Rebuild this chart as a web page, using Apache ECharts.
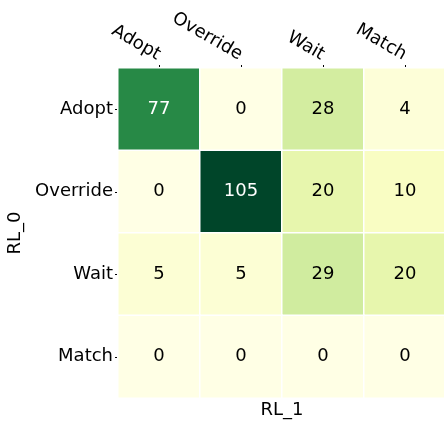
<!DOCTYPE html>
<html>
<head>
<meta charset="utf-8">
<script src="https://cdn.jsdelivr.net/npm/echarts@6/dist/echarts.min.js"></script>
<style>
  html, body { margin: 0; padding: 0; background: #fff; }
  #chart { width: 444px; height: 424px; }
</style>
</head>
<body>
<div id="chart"></div>
<script>
var colLabels = ["Adopt", "Override", "Wait", "Match"];
var rowLabels = ["Adopt", "Override", "Wait", "Match"];
// counts[row][col]
var counts = [
  [77, 0, 28, 4],
  [0, 105, 20, 10],
  [5, 5, 29, 20],
  [0, 0, 0, 0]
];
var ylGn = ["#ffffe5", "#f7fcb9", "#d9f0a3", "#addd8e", "#78c679", "#41ab5d", "#238443", "#006837", "#004529"];

var chart = echarts.init(document.getElementById("chart"));

var font = "DejaVu Sans";

// build heatmap points, white text on the dark cells
var cells = [];
counts.forEach(function (row, r) {
  row.forEach(function (v, c) {
    cells.push({ value: [c, r, v], label: { color: v > 60 ? "#fff" : "#000" } });
  });
});

chart.setOption({
  animation: false,
  grid: { left: 118, top: 68, width: 328, height: 330, outerBoundsMode: "none", containLabel: false },
  xAxis: {
    type: "category",
    position: "top",
    data: colLabels,
    axisLine: { show: false },
    axisTick: { show: true, length: 3, alignWithLabel: true, lineStyle: { color: "#000" } },
    axisLabel: { fontFamily: font, fontSize: 18, color: "#000", rotate: 30, margin: 12 },
    splitLine: { show: false }
  },
  yAxis: {
    type: "category",
    inverse: true,
    data: rowLabels,
    name: "RL_0",
    nameLocation: "middle",
    nameGap: 86,
    nameTextStyle: { fontFamily: font, fontSize: 18, color: "#000" },
    axisLine: { show: false },
    axisTick: { show: true, length: 3, alignWithLabel: true, lineStyle: { color: "#000" } },
    axisLabel: { fontFamily: font, fontSize: 18, color: "#000", margin: 5 },
    splitLine: { show: false }
  },
  visualMap: {
    show: false,
    min: 0,
    max: 105,
    inRange: { color: ylGn }
  },
  graphic: [{
    type: "text",
    x: 282,
    y: 410,
    style: { text: "RL_1", font: "18px DejaVu Sans", fill: "#000", align: "center", verticalAlign: "middle" }
  }],
  series: [{
    type: "heatmap",
    data: cells,
    itemStyle: { borderColor: "#fff", borderWidth: 1.5 },
    label: { show: true, fontFamily: font, fontSize: 18, color: "#000" },
    emphasis: { disabled: true }
  }]
});
</script>
</body>
</html>
